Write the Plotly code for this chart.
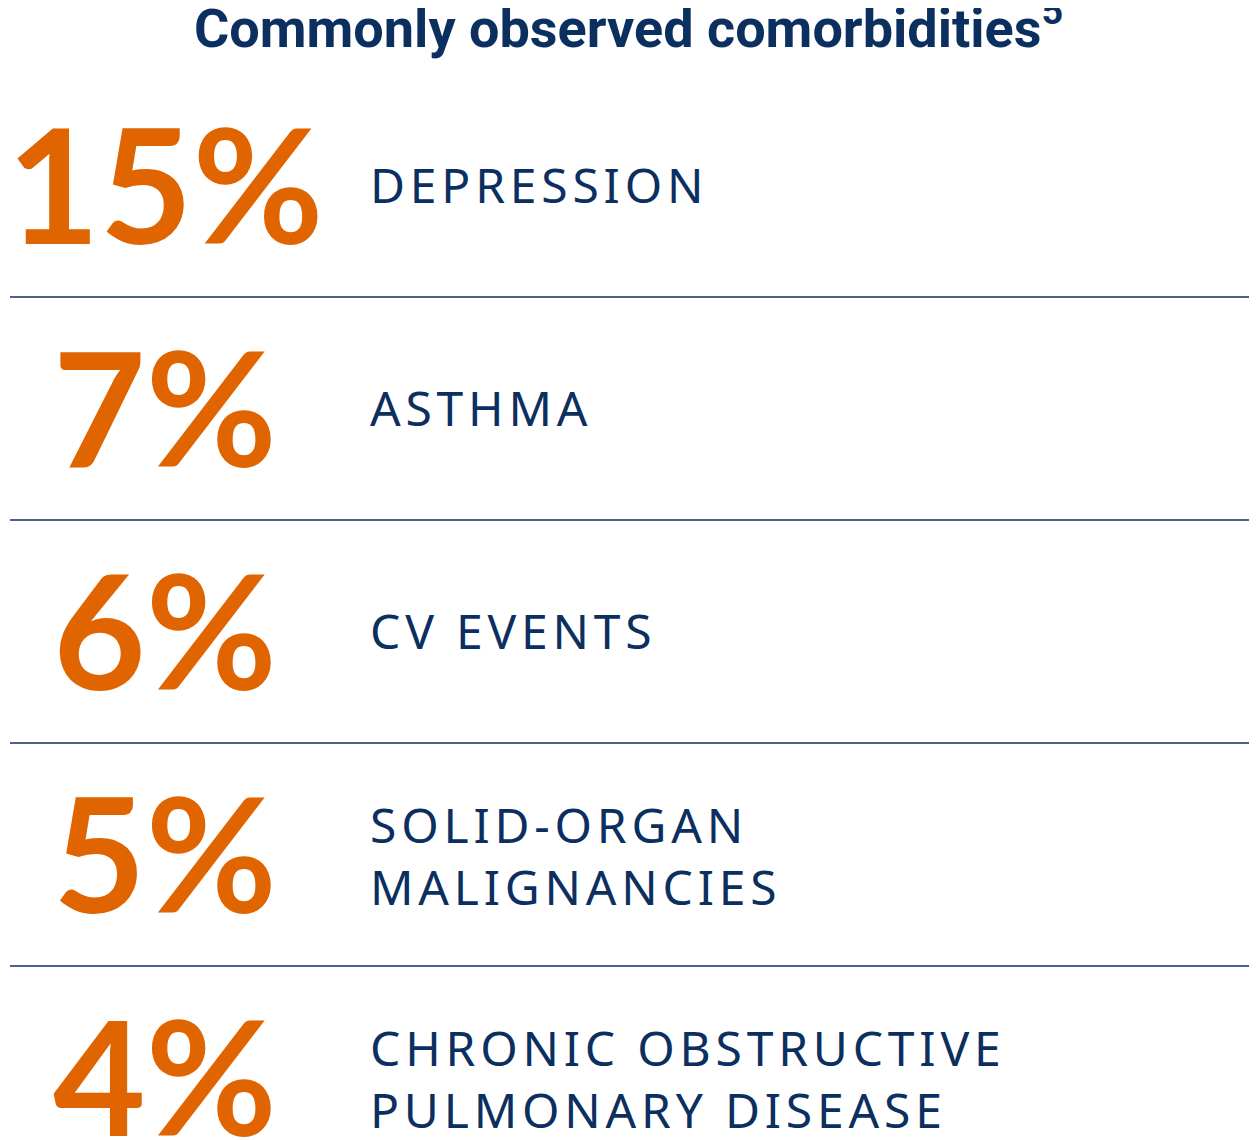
import plotly.graph_objects as go

title = "Commonly observed comorbidities<sup>5</sup>"
percents = [15, 7, 6, 5, 4]
labels = [
    "DEPRESSION",
    "ASTHMA",
    "CV EVENTS",
    "SOLID-ORGAN<br>MALIGNANCIES",
    "CHRONIC OBSTRUCTIVE<br>PULMONARY DISEASE",
]

NAVY = "#0b2f5f"
ORANGE = "#e06400"
HS = "\u200a"


def spaced(s):
    # fake letter spacing with hair spaces
    return "<br>".join(HS.join(line) for line in s.split("<br>"))


fig = go.Figure()
row_h = 223
y0 = 174
anns = [dict(x=620, y=16, text=title, showarrow=False, xref="x", yref="y",
             font=dict(family="Roboto, sans-serif", size=54, color=NAVY, weight="bold"))]
for i, (p, lab) in enumerate(zip(percents, labels)):
    yc = y0 + i * row_h
    anns.append(dict(x=157, y=yc, text=f"{p}%", showarrow=False, xref="x", yref="y",
                     font=dict(family="Lato, sans-serif", size=160, color=ORANGE, weight="bold")))
    anns.append(dict(x=360, y=yc + (4 if "<br>" in lab else 2), text=spaced(lab), showarrow=False,
                     xref="x", yref="y", xanchor="left", align="left",
                     font=dict(family="Noto Sans, sans-serif", size=48, color=NAVY)))
    if i < len(percents) - 1:
        ly = 289 + i * row_h
        fig.add_shape(type="line", x0=2, x1=1254, y0=ly, y1=ly, xref="x", yref="y",
                      line=dict(color=NAVY, width=1.5))

fig.update_layout(
    width=1257, height=1140, margin=dict(l=0, r=0, t=0, b=0),
    paper_bgcolor="white", plot_bgcolor="white", annotations=anns,
    xaxis=dict(range=[0, 1257], visible=False, fixedrange=True),
    yaxis=dict(range=[1140, 0], visible=False, fixedrange=True),
    showlegend=False,
)
fig.write_html("out.html")
